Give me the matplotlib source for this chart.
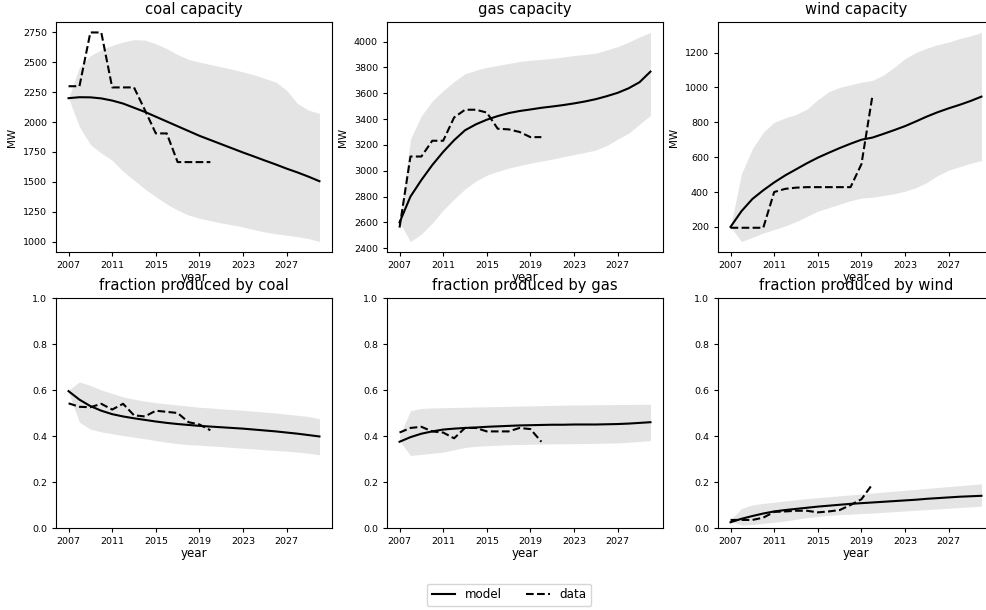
import numpy as np
import matplotlib
matplotlib.use('Agg')
import matplotlib.pyplot as plt

years_model = np.arange(2007, 2031)
years_data = np.arange(2007, 2021)

# coal capacity (MW)
coal_cap_model = [2200, 2208, 2207, 2198, 2180, 2155, 2120, 2085, 2045, 2005, 1965, 1925,
                  1885, 1850, 1815, 1780, 1745, 1712, 1678, 1645, 1610, 1578, 1543, 1505]
coal_cap_hi = [2200, 2460, 2555, 2605, 2642, 2670, 2690, 2686, 2655, 2615, 2565, 2525,
               2502, 2482, 2462, 2442, 2420, 2395, 2365, 2335, 2265, 2155, 2100, 2072]
coal_cap_lo = [2200, 1960, 1812, 1740, 1680, 1588, 1514, 1440, 1374, 1315, 1262, 1222,
               1195, 1175, 1155, 1140, 1122, 1100, 1080, 1065, 1053, 1040, 1025, 1000]
coal_cap_data = [2300, 2300, 2750, 2750, 2290, 2290, 2290, 2100, 1905, 1905, 1665, 1665, 1665, 1665]

# gas capacity (MW)
gas_cap_model = [2600, 2800, 2928, 3044, 3146, 3236, 3313, 3359, 3395, 3423, 3446, 3462,
                 3474, 3487, 3497, 3508, 3521, 3536, 3554, 3577, 3603, 3638, 3685, 3767]
gas_cap_hi = [2600, 3245, 3425, 3540, 3620, 3690, 3750, 3778, 3800, 3815, 3830, 3845,
              3855, 3862, 3870, 3880, 3892, 3900, 3910, 3935, 3960, 3995, 4035, 4070]
gas_cap_lo = [2600, 2452, 2510, 2595, 2695, 2780, 2858, 2920, 2965, 2995, 3020, 3040,
              3058, 3075, 3090, 3108, 3125, 3142, 3160, 3195, 3245, 3290, 3360, 3428]
gas_cap_data = [2560, 3110, 3110, 3232, 3232, 3412, 3472, 3472, 3450, 3325, 3320, 3300, 3260, 3260]

# wind capacity (MW)
wind_cap_model = [200, 290, 360, 410, 455, 495, 530, 565, 597, 625, 652, 677,
                  700, 712, 733, 755, 778, 805, 833, 858, 880, 900, 922, 947]
wind_cap_hi = [200, 505, 648, 743, 800, 825, 845, 875, 930, 975, 1000, 1015,
               1030, 1040, 1070, 1115, 1165, 1200, 1225, 1245, 1260, 1280, 1295, 1315]
wind_cap_lo = [200, 116, 140, 165, 185, 205, 230, 260, 290, 310, 330, 350,
               365, 370, 380, 390, 405, 425, 455, 495, 525, 545, 565, 580]
wind_cap_data = [195, 195, 195, 195, 400, 418, 425, 428, 428, 428, 428, 428, 560, 950]

# fraction produced by coal
coal_frac_model = [0.595, 0.558, 0.530, 0.510, 0.495, 0.485, 0.477, 0.470, 0.463, 0.457, 0.452, 0.448,
                   0.444, 0.441, 0.438, 0.435, 0.432, 0.428, 0.424, 0.420, 0.415, 0.410, 0.404, 0.398]
coal_frac_hi = [0.600, 0.635, 0.620, 0.600, 0.585, 0.570, 0.560, 0.552, 0.545, 0.540, 0.535, 0.530,
                0.525, 0.522, 0.518, 0.515, 0.512, 0.508, 0.504, 0.500, 0.495, 0.490, 0.485, 0.475]
coal_frac_lo = [0.590, 0.460, 0.430, 0.418, 0.410, 0.402, 0.395, 0.388, 0.380, 0.373, 0.367, 0.362,
                0.360, 0.357, 0.354, 0.350, 0.347, 0.344, 0.340, 0.337, 0.334, 0.330, 0.325, 0.318]
coal_frac_data = [0.542, 0.527, 0.525, 0.540, 0.515, 0.540, 0.490, 0.485, 0.510, 0.505, 0.500, 0.460, 0.450, 0.425]

# fraction produced by gas
gas_frac_model = [0.375, 0.395, 0.410, 0.420, 0.428, 0.432, 0.435, 0.437, 0.440, 0.442, 0.444, 0.446,
                  0.447, 0.448, 0.449, 0.449, 0.450, 0.450, 0.450, 0.451, 0.452, 0.454, 0.457, 0.460]
gas_frac_hi = [0.400, 0.510, 0.520, 0.522, 0.523, 0.524, 0.525, 0.526, 0.527, 0.528, 0.529, 0.530,
               0.531, 0.532, 0.533, 0.534, 0.535, 0.535, 0.536, 0.536, 0.537, 0.537, 0.538, 0.538]
gas_frac_lo = [0.380, 0.315, 0.320, 0.325, 0.330, 0.340, 0.350, 0.355, 0.358, 0.360, 0.362, 0.363,
               0.364, 0.365, 0.366, 0.366, 0.367, 0.367, 0.368, 0.369, 0.370, 0.373, 0.376, 0.380]
gas_frac_data = [0.415, 0.435, 0.440, 0.420, 0.415, 0.390, 0.435, 0.435, 0.420, 0.420, 0.420, 0.435, 0.430, 0.375]

# fraction produced by wind
wind_frac_model = [0.025, 0.040, 0.052, 0.063, 0.072, 0.078, 0.083, 0.088, 0.093, 0.097, 0.101, 0.105,
                   0.108, 0.111, 0.114, 0.117, 0.120, 0.123, 0.127, 0.130, 0.133, 0.136, 0.138, 0.140]
wind_frac_hi = [0.035, 0.085, 0.100, 0.107, 0.112, 0.118, 0.123, 0.128, 0.132, 0.136, 0.140, 0.144,
                0.148, 0.152, 0.156, 0.160, 0.164, 0.168, 0.172, 0.176, 0.180, 0.184, 0.188, 0.192]
wind_frac_lo = [0.030, 0.012, 0.015, 0.020, 0.025, 0.030, 0.038, 0.045, 0.050, 0.055, 0.058, 0.060,
                0.063, 0.065, 0.068, 0.071, 0.074, 0.077, 0.080, 0.083, 0.086, 0.089, 0.092, 0.095]
wind_frac_data = [0.035, 0.035, 0.035, 0.045, 0.070, 0.072, 0.075, 0.075, 0.068, 0.072, 0.078, 0.100, 0.125, 0.190]

titles = ['coal capacity', 'gas capacity', 'wind capacity',
          'fraction produced by coal', 'fraction produced by gas', 'fraction produced by wind']
xtick_years = [2007, 2011, 2015, 2019, 2023, 2027]

panels = [
    (coal_cap_model, coal_cap_lo, coal_cap_hi, coal_cap_data),
    (gas_cap_model, gas_cap_lo, gas_cap_hi, gas_cap_data),
    (wind_cap_model, wind_cap_lo, wind_cap_hi, wind_cap_data),
    (coal_frac_model, coal_frac_lo, coal_frac_hi, coal_frac_data),
    (gas_frac_model, gas_frac_lo, gas_frac_hi, gas_frac_data),
    (wind_frac_model, wind_frac_lo, wind_frac_hi, wind_frac_data),
]

W, H = 987, 610
fig = plt.figure(figsize=(W / 100, H / 100), dpi=100)

lefts = [56, 387, 718]
tops = [22, 298]
aw, ah = 276, 230

for idx, (model, lo, hi, data) in enumerate(panels):
    r, c = divmod(idx, 3)
    ax = fig.add_axes([lefts[c] / W, 1 - (tops[r] + ah) / H, aw / W, ah / H])
    ax.fill_between(years_model, lo, hi, color='lightgray', alpha=0.6, linewidth=0)
    ax.plot(years_model, model, color='black', lw=1.5, label='model')
    ax.plot(years_data, data, color='black', lw=1.5, ls='--', label='data')
    ax.set_title(titles[idx], fontsize=10.6)
    ax.set_xlabel('year', fontsize=8.6, labelpad=1)
    ax.set_xticks(xtick_years)
    ax.tick_params(labelsize=6.8, length=3)
    if r == 0:
        ax.set_ylabel('MW', fontsize=7.5)
    else:
        ax.set_ylim(0, 1)

handles, labels = ax.get_legend_handles_labels()
fig.legend(handles, labels, loc='center', ncol=2, fontsize=8.6,
           bbox_to_anchor=(509 / W, 1 - 595 / H), frameon=True)

fig.savefig('out.png', dpi=100)
